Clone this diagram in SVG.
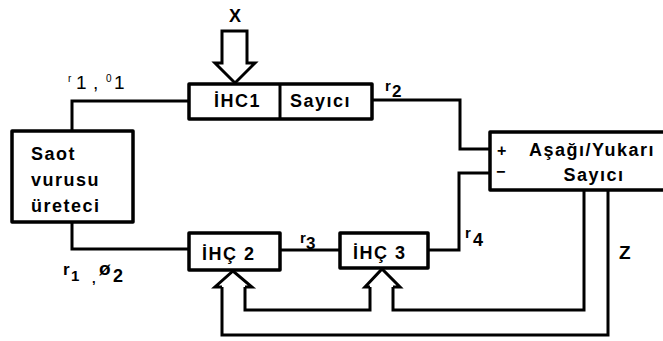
<svg xmlns="http://www.w3.org/2000/svg" width="663" height="341" viewBox="0 0 663 341">
<style>
.box{fill:#fff;stroke:#000;stroke-width:3.5;stroke-linejoin:round}
.ln{fill:none;stroke:#000;stroke-width:3;stroke-linejoin:miter;stroke-linecap:square}
.arr{fill:#fff;stroke:#000;stroke-width:3;stroke-linejoin:miter}
.t{font-family:"Liberation Sans",Arial,sans-serif;font-weight:bold;font-size:18px;fill:#000;letter-spacing:1.5px}
.lb{font-family:"Liberation Sans",Arial,sans-serif;font-weight:bold;fill:#000}
.thin{font-family:"Liberation Sans",Arial,sans-serif;font-weight:normal;fill:#000}
</style>
<rect width="663" height="341" fill="#fff"/>
<g id="connectors">
<path class="ln" d="M72,131 L72,101 L189,101"/>
<path class="ln" d="M72,222 L72,249 L189,249"/>
<path class="ln" d="M280,250 L340,250"/>
<path class="ln" d="M372,100 L460,100 L460,149 L490,149"/>
<path class="ln" d="M428,250 L459,250 L459,173 L490,173"/>
<path class="ln" d="M222,287 L222,335 L608,335 L608,191"/>
<path class="ln" d="M245,287 L245,310 L370,310 L370,287"/>
<path class="ln" d="M393,287 L393,310 L584,310 L584,191"/>
<path class="arr" d="M222,287 L215,287 L233,271 L252,287 L245,287"/>
<path class="arr" d="M370,287 L365,287 L382,269 L400,287 L393,287"/>
<path class="arr" d="M222,31 L247,31 L247,63 L255,63 L235,83 L215,63 L222,63 Z"/>
</g>
<g id="x-label"><text class="lb" x="235" y="22" font-size="18" text-anchor="middle">X</text></g>
<g id="clock">
<rect class="box" x="12" y="131" width="121" height="91"/>
<text class="t" x="31" y="160">Saot</text>
<text class="t" x="31" y="186" letter-spacing="0.5">vurusu</text>
<text class="t" x="31" y="212" letter-spacing="1.2">üreteci</text>
</g>
<g id="ihc1">
<rect class="box" x="189" y="84" width="183" height="35"/>
<line x1="280" y1="84" x2="280" y2="119" stroke="#000" stroke-width="3"/>
<text class="t" x="214" y="107" letter-spacing="1">İHC1</text>
<text class="t" x="290" y="107" letter-spacing="0.5">Sayıcı</text>
</g>
<g id="ihc2">
<rect class="box" x="189" y="233" width="91" height="37"/>
<text class="t" x="202" y="260" letter-spacing="1">İHÇ 2</text>
</g>
<g id="ihc3">
<rect class="box" x="340" y="233" width="88" height="35"/>
<text class="t" x="353" y="259" letter-spacing="1">İHÇ 3</text>
</g>
<g id="counter">
<rect class="box" x="490" y="132" width="190" height="58"/>
<text class="lb" x="497" y="156" font-size="16">+</text>
<text class="lb" x="496" y="177" font-size="16">−</text>
<text class="t" x="592" y="156" text-anchor="middle" letter-spacing="1.2">Aşağı/Yukarı</text>
<text class="t" x="594" y="181" text-anchor="middle" letter-spacing="1">Sayıcı</text>
</g>
<g id="labels">
<text class="thin" font-size="19"><tspan x="68" y="82" font-size="10">r</tspan><tspan x="76" y="89">1</tspan><tspan x="93" y="89">,</tspan><tspan x="106" y="82" font-size="10">0</tspan><tspan x="114" y="89">1</tspan></text>
<text class="lb" font-size="15"><tspan x="385" y="91">r</tspan><tspan x="392" y="97" font-size="17">2</tspan></text>
<text class="lb" font-size="15"><tspan x="300" y="243">r</tspan><tspan x="306" y="249" font-size="17">3</tspan></text>
<text class="lb" font-size="15"><tspan x="465" y="238">r</tspan><tspan x="473" y="246" font-size="18">4</tspan></text>
<text class="lb" font-size="19" x="619" y="259">Z</text>
<text class="lb" font-size="17"><tspan x="63" y="275">r</tspan><tspan x="71" y="281" font-size="15">1</tspan><tspan x="92" y="283" font-size="13">,</tspan><tspan x="99" y="275" font-size="19">ø</tspan><tspan x="113" y="282" font-size="18">2</tspan></text>
</g>
</svg>
